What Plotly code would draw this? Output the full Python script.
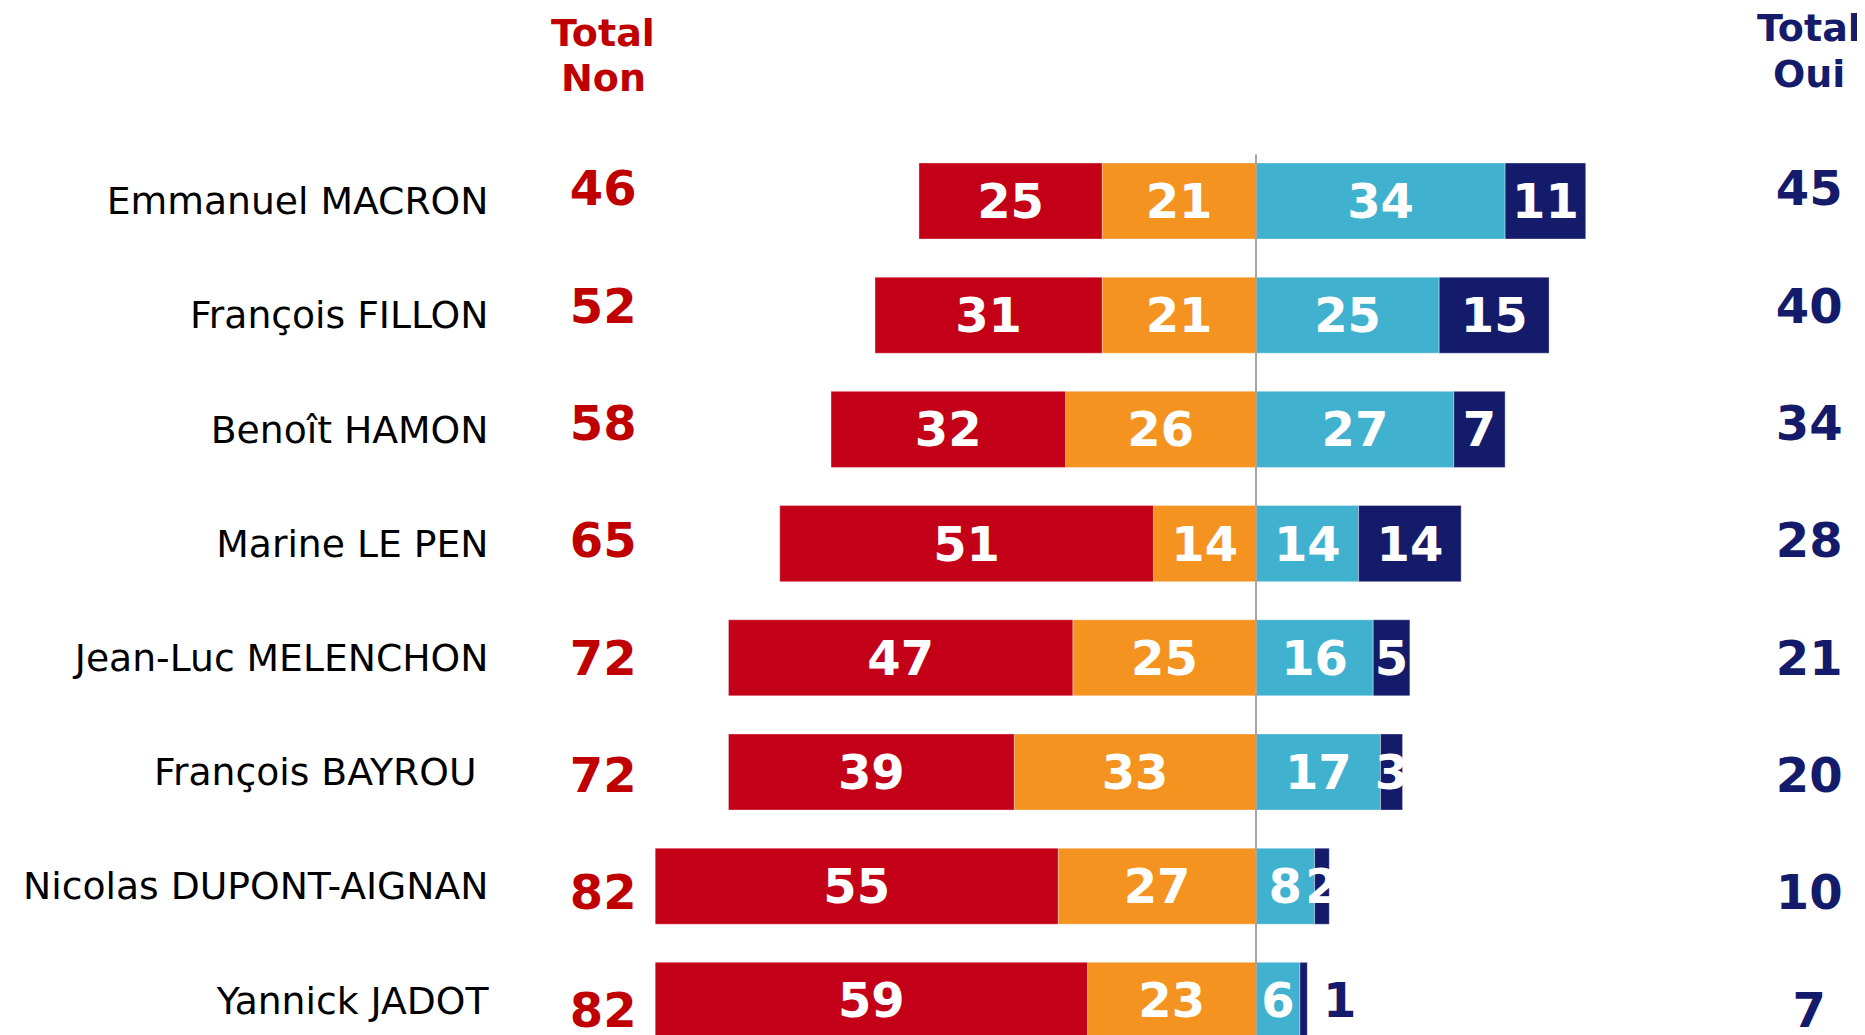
import plotly.graph_objects as go

# ---- data ----
candidates = [
    "Emmanuel MACRON",
    "François FILLON",
    "Benoît HAMON",
    "Marine LE PEN",
    "Jean-Luc MELENCHON",
    "François BAYROU\u00a0",
    "Nicolas DUPONT-AIGNAN",
    "Yannick JADOT",
]
non_pas_du_tout = [25, 31, 32, 51, 47, 39, 55, 59]
non_plutot_pas = [21, 21, 26, 14, 25, 33, 27, 23]
oui_plutot = [34, 25, 27, 14, 16, 17, 8, 6]
oui_tout_a_fait = [11, 15, 7, 14, 5, 3, 2, 1]
total_non = [46, 52, 58, 65, 72, 72, 82, 82]
total_oui = [45, 40, 34, 28, 21, 20, 10, 7]

# ---- style ----
RED = "#C40018"
ORANGE = "#F59321"
LIGHTBLUE = "#40B1CE"
NAVY = "#141B6B"
TXT_RED = "#C00000"
FONT = "DejaVu Sans"
LABEL_SIZE = 48
NAME_SIZE = 37.7
HEAD_SIZE = 38

# page has an 8px body margin -> figure is slightly smaller
W, H = 1857, 1027
PLOT_LEFT = 492
PX_PER_UNIT = 7.327
ZERO_PX = 1248
X_RANGE = [-(ZERO_PX - PLOT_LEFT) / PX_PER_UNIT, (W - ZERO_PX) / PX_PER_UNIT]
Y_RANGE = [7.303, -1.690]
Y2_RANGE = [7.174, -1.581]
NON_COL_X = -89.1
OUI_COL_X = 75.5

fig = go.Figure()

def seg(values, color, negative=False, name="", min_inside=0):
    xs = [-v if negative else v for v in values]
    txt = [str(v) if v >= min_inside else "" for v in values]
    fig.add_trace(go.Bar(
        y=candidates, x=xs, orientation="h", name=name,
        marker=dict(color=color, line=dict(width=1, color="rgba(255,255,255,0.35)")),
        width=0.666,
        text=txt, textposition="inside", insidetextanchor="middle",
        textangle=0, constraintext="none",
        textfont=dict(family=FONT, size=LABEL_SIZE, color="white", weight="bold"),
        hoverinfo="skip",
    ))

seg(non_plutot_pas, ORANGE, True, "Non, plutôt pas")
seg(non_pas_du_tout, RED, True, "Non, pas du tout")
seg(oui_plutot, LIGHTBLUE, False, "Oui, plutôt")
seg(oui_tout_a_fait, NAVY, False, "Oui, tout à fait", min_inside=2)

# small values shown outside the bar end
for name, a, b in zip(candidates, oui_plutot, oui_tout_a_fait):
    if b < 2:
        fig.add_annotation(
            x=a + b, y=name, xref="x", yref="y", text=str(b), showarrow=False,
            xanchor="left", xshift=14,
            font=dict(family=FONT, size=LABEL_SIZE, color=NAVY, weight="bold"),
        )

# totals columns
fig.add_trace(go.Scatter(
    x=[NON_COL_X] * len(candidates), y=candidates, yaxis="y2", mode="text",
    text=[str(v) for v in total_non], textposition="middle center",
    textfont=dict(family=FONT, size=LABEL_SIZE, color=TXT_RED, weight="bold"),
    cliponaxis=False, hoverinfo="skip", showlegend=False,
))
fig.add_trace(go.Scatter(
    x=[OUI_COL_X] * len(candidates), y=candidates, yaxis="y2", mode="text",
    text=[str(v) for v in total_oui], textposition="middle center",
    textfont=dict(family=FONT, size=LABEL_SIZE, color=NAVY, weight="bold"),
    cliponaxis=False, hoverinfo="skip", showlegend=False,
))

# headers (one annotation per line)
headers = [
    ("Total", NON_COL_X, 25, TXT_RED),
    ("Non", NON_COL_X, 70.5, TXT_RED),
    ("Total", OUI_COL_X, 20.5, NAVY),
    ("Oui", OUI_COL_X, 65.7, NAVY),
]
for txt, xc, ypx, col in headers:
    fig.add_annotation(x=xc, y=1 - ypx / H, xref="x", yref="paper",
                       text=txt, showarrow=False, yanchor="middle",
                       font=dict(family=FONT, size=HEAD_SIZE, color=col, weight="bold"))

# zero line
fig.add_shape(type="line", xref="x", yref="y", x0=0, x1=0, y0=-0.41, y1=Y_RANGE[0],
              line=dict(color="#A6A6A6", width=2), layer="above")

fig.update_layout(
    width=W, height=H,
    margin=dict(l=PLOT_LEFT, r=0, t=0, b=0, pad=0),
    barmode="relative",
    showlegend=False,
    paper_bgcolor="white", plot_bgcolor="white",
    xaxis=dict(range=X_RANGE, visible=False, showgrid=False, zeroline=False),
    yaxis=dict(type="category", categoryorder="array", categoryarray=candidates,
               range=Y_RANGE, showgrid=False, zeroline=False, showline=False,
               ticks="outside", ticklen=3, tickcolor="rgba(0,0,0,0)",
               tickfont=dict(family=FONT, size=NAME_SIZE, color="#000000")),
    yaxis2=dict(type="category", categoryorder="array", categoryarray=candidates,
                range=Y2_RANGE, overlaying="y", visible=False, showgrid=False),
)

fig.write_html("out.html")
